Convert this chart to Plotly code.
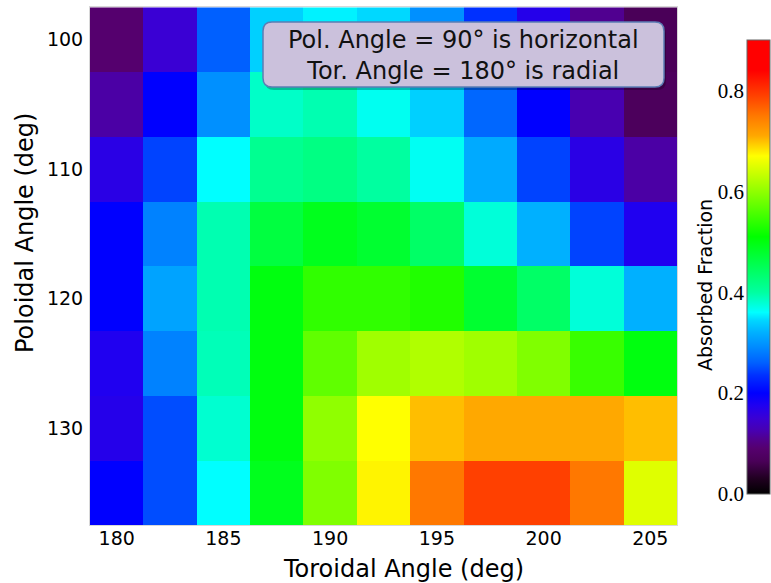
import plotly.graph_objects as go

# Grid of launch angles
toroidal_deg = [180, 182.5, 185, 187.5, 190, 192.5, 195, 197.5, 200, 202.5, 205]
poloidal_deg = [100, 105, 110, 115, 120, 125, 130, 135]

# Absorbed fraction, one row per poloidal angle
absorbed = [
    [0.090, 0.150, 0.260, 0.340, 0.355, 0.345, 0.295, 0.235, 0.170, 0.110, 0.065],
    [0.120, 0.200, 0.295, 0.383, 0.393, 0.366, 0.340, 0.265, 0.200, 0.125, 0.070],
    [0.165, 0.245, 0.360, 0.410, 0.420, 0.400, 0.365, 0.315, 0.245, 0.165, 0.120],
    [0.200, 0.285, 0.393, 0.466, 0.490, 0.477, 0.440, 0.376, 0.320, 0.245, 0.175],
    [0.200, 0.310, 0.393, 0.500, 0.540, 0.540, 0.530, 0.477, 0.440, 0.376, 0.320],
    [0.175, 0.285, 0.390, 0.500, 0.570, 0.610, 0.620, 0.610, 0.590, 0.545, 0.500],
    [0.170, 0.250, 0.380, 0.500, 0.600, 0.670, 0.700, 0.710, 0.710, 0.710, 0.700],
    [0.200, 0.250, 0.360, 0.490, 0.590, 0.675, 0.750, 0.790, 0.790, 0.750, 0.650],
]

x_ticks = [180, 185, 190, 195, 200, 205]
y_ticks = [100, 110, 120, 130]
cbar_ticks = [0.0, 0.2, 0.4, 0.6, 0.8]
z_min, z_max = 0.0, 0.9

# Rainbow-with-black colour table, stops given in data units
rainbow_stops = [
    (0.000, "#000000"), (0.030, "#200020"), (0.065, "#4a0058"), (0.090, "#55006e"),
    (0.110, "#500090"), (0.125, "#4800b0"), (0.150, "#3a00d4"), (0.175, "#2000f0"),
    (0.200, "#0000ff"), (0.235, "#0030ff"), (0.260, "#0060ff"), (0.295, "#0090ff"),
    (0.320, "#00b0ff"), (0.345, "#00d8ff"), (0.360, "#00ffff"), (0.400, "#00ffa0"),
    (0.510, "#00ff00"), (0.610, "#a0ff00"), (0.670, "#ffff00"), (0.710, "#ffa800"),
    (0.750, "#ff7800"), (0.790, "#ff4000"), (0.840, "#ff0000"), (0.900, "#ff0000"),
]
colorscale = [[(v - z_min) / (z_max - z_min), c] for v, c in rainbow_stops]

W, H = 771, 583
SANS = "Century Gothic, DejaVu Sans, sans-serif"
SERIF = "Liberation Serif"

# pixel layout helpers
def px_x(p):
    return p / W

def px_y(p):
    return 1 - p / H

plot_l, plot_r, plot_t, plot_b = 90, 677, 7.3, 525
cb_l, cb_r, cb_t, cb_b = 747, 770, 40, 494

fig = go.Figure()

fig.add_trace(go.Heatmap(
    x=toroidal_deg, y=poloidal_deg, z=absorbed,
    colorscale=colorscale, zmin=z_min, zmax=z_max,
    xaxis="x", yaxis="y",
    colorbar=dict(
        x=px_x(cb_l), xanchor="left", xpad=0,
        y=px_y(cb_b), yanchor="bottom", ypad=0,
        len=(cb_b - cb_t) / H, lenmode="fraction",
        thickness=cb_r - cb_l, thicknessmode="pixels",
        outlinewidth=1, outlinecolor="#666666",
        showticklabels=False, ticks="",
    ),
    hoverinfo="x+y+z",
))

# axis carrying the colour-bar tick labels
fig.add_trace(go.Scatter(x=[None], y=[None], xaxis="x2", yaxis="y2",
                         showlegend=False, hoverinfo="skip"))

fig.update_layout(
    width=W, height=H,
    margin=dict(l=0, r=0, t=0, b=0, autoexpand=False),
    paper_bgcolor="white", plot_bgcolor="white",
    template="none",
    showlegend=False,
    xaxis=dict(
        domain=[px_x(plot_l), px_x(plot_r)],
        range=[178.75, 206.25], tickvals=x_ticks,
        ticks="", showgrid=False, zeroline=False,
        showline=True, linecolor="#d8d8d8", linewidth=1, mirror=True,
        tickfont=dict(family=SANS, size=19, color="black"),
        ticklabelstandoff=-4,
        automargin=False, anchor="y",
    ),
    yaxis=dict(
        domain=[px_y(plot_b), px_y(plot_t)],
        range=[137.5, 97.5], tickvals=y_ticks,
        ticks="", showgrid=False, zeroline=False,
        showline=True, linecolor="#d8d8d8", linewidth=1, mirror=True,
        tickfont=dict(family=SANS, size=19, color="black"),
        ticklabelstandoff=2,
        automargin=False, anchor="x",
    ),
    xaxis2=dict(
        domain=[px_x(cb_l), px_x(cb_r)], range=[0, 1],
        visible=False, anchor="y2", automargin=False,
    ),
    yaxis2=dict(
        domain=[px_y(cb_b), px_y(cb_t)], range=[z_min, z_max],
        tickvals=cbar_ticks, ticktext=[f"{v:.1f}" for v in cbar_ticks],
        side="left", ticks="", showgrid=False, zeroline=False, showline=False,
        tickfont=dict(family=SERIF, size=21, color="black"),
        ticklabelstandoff=2,
        automargin=False, anchor="x2",
    ),
)

# axis titles
fig.add_annotation(text="Toroidal Angle (deg)", xref="paper", yref="paper",
                   x=px_x(403), y=px_y(569), xanchor="center", yanchor="middle",
                   showarrow=False, font=dict(family=SANS, size=24, color="black"))
fig.add_annotation(text="Poloidal Angle (deg)", xref="paper", yref="paper",
                   x=px_x(25), y=px_y(233), xanchor="center", yanchor="middle",
                   textangle=-90, showarrow=False,
                   font=dict(family=SANS, size=24, color="black"))
fig.add_annotation(text="Absorbed Fraction", xref="paper", yref="paper",
                   x=px_x(705), y=px_y(285), xanchor="center", yanchor="middle",
                   textangle=-90, showarrow=False,
                   font=dict(family=SANS, size=19, color="black"))

# rounded note box with a soft shadow
def rounded_rect(x0, y0, x1, y1, r):
    # pixel box -> paper-space SVG path
    rx, ry = r / W, r / H
    X0, X1 = px_x(x0), px_x(x1)
    Yt, Yb = px_y(y0), px_y(y1)
    return (f"M {X0+rx},{Yt} L {X1-rx},{Yt} Q {X1},{Yt} {X1},{Yt-ry} "
            f"L {X1},{Yb+ry} Q {X1},{Yb} {X1-rx},{Yb} L {X0+rx},{Yb} "
            f"Q {X0},{Yb} {X0},{Yb+ry} L {X0},{Yt-ry} Q {X0},{Yt} {X0+rx},{Yt} Z")

box = (263, 22, 664, 87)
fig.add_shape(type="path", xref="paper", yref="paper", layer="above",
              path=rounded_rect(box[0] + 2, box[1] + 3, box[2] + 2, box[3] + 3, 9),
              fillcolor="rgba(0,0,0,0.25)", line=dict(width=0))
fig.add_shape(type="path", xref="paper", yref="paper", layer="above",
              path=rounded_rect(*box, 9),
              fillcolor="#cbc1dc", line=dict(color="#5b7db4", width=1.5))
fig.add_annotation(text="Pol. Angle = 90° is horizontal<br>Tor. Angle = 180° is radial",
                   xref="paper", yref="paper",
                   x=px_x((box[0] + box[2]) / 2), y=px_y((box[1] + box[3]) / 2 + 1),
                   xanchor="center", yanchor="middle", showarrow=False,
                   font=dict(family=SANS, size=24, color="#111111"))

fig.write_html("out.html")
